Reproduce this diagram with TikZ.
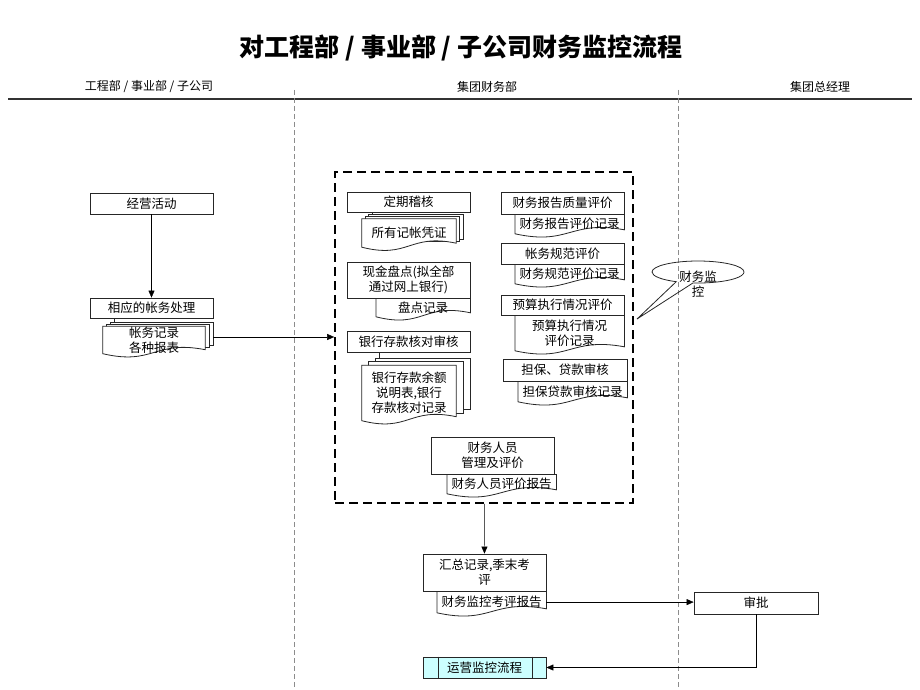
\documentclass[tikz,border=0pt]{standalone}
\usepackage{fontspec}
\setmainfont{Noto Sans CJK SC}
\usepackage{tikz}
\usetikzlibrary{arrows.meta,positioning,shapes.callouts,backgrounds}

\definecolor{opsfill}{RGB}{204,255,255}
\newcommand{\boxfont}{\fontsize{12.5}{15}\selectfont}
\newcommand{\headfont}{\fontsize{12}{14}\selectfont}

% document outline (wavy bottom) behind a node
\newcommand{\docshape}[1]{%
  \begin{scope}[on background layer]
    \draw[outl,fill=white] (#1.north west) -- (#1.north east) -- ([yshift=4pt]#1.south east)
      .. controls ([yshift=14pt]#1.south) and ([yshift=-12pt]#1.south) .. (#1.south west) -- cycle;
  \end{scope}}

% stack of documents: front node, dx, dy, box above
\newcommand{\docstack}[4]{%
  \begin{scope}[on background layer]
    \foreach \k in {2,1}
      \draw[outl,fill=white] ([xshift=\k*#2pt,yshift=\k*#3pt]#1.north west)
        rectangle ([xshift=\k*#2pt,yshift=\k*#3pt+4pt]#1.south east);
    \coordinate (#1tk) at ([xshift=2*#2pt+4pt,yshift=2*#3pt]#1.north west);
    \draw[outl] (#1tk) -- (#1tk |- #4.south);
  \end{scope}
  \docshape{#1}}

\begin{document}
\begin{tikzpicture}[x=1pt,y=-1pt,
    outl/.style={draw=black!85,line width=0.8pt},
    proc/.style={outl,fill=white,minimum width=123pt,minimum height=21pt,inner sep=0pt,align=center,font=\boxfont},
    doc/.style={minimum width=109pt,minimum height=19pt,inner sep=0pt,align=center,font=\boxfont},
    lane/.style={draw=black!45,line width=0.6pt,dash pattern=on 5pt off 3pt},
    >={Triangle[length=7pt,width=6pt]}
  ]
  \useasboundingbox (0,0) rectangle (920,690);

  % Title and lanes
  \node[font=\fontsize{25}{28}\selectfont\bfseries] (title) at (461,48) {对工程部 / 事业部 / 子公司财务监控流程};
  \node[font=\headfont] (hdl) at (149,87) {工程部 / 事业部 / 子公司};
  \node[font=\headfont] (hdm) at (487,87) {集团财务部};
  \node[font=\headfont] (hdr) at (820,87) {集团总经理};
  \draw[line width=1.6pt,black!80] (8,99) -- (912,99);
  \draw[lane] (294,90) -- (294,690);
  \draw[lane] (678,90) -- (678,690);

  % Left lane
  \node[proc] (act) at (151.5,203.5) {经营活动};
  \node[proc,minimum height=20pt] (acct) at (151.5,308) {相应的帐务处理};
  \node[doc,minimum width=102pt,minimum height=27pt] (rec) at (154,340) {帐务记录\\各种报表};
  \docstack{rec}{4}{2}{acct}
  \draw[->] (act) -- (acct);

  % Monitoring block
  \node[draw,line width=1.6pt,dash pattern=on 9pt off 5pt,minimum width=298pt,minimum height=331pt] (mon) at (484,337.5) {};
  \coordinate (recout) at ([xshift=8pt,yshift=3pt]rec.east);
  \draw[->] (recout) -- (recout -| mon.west);

  \node[proc,minimum height=20pt] (aud) at (408.5,202) {定期稽核};
  \node[doc,minimum width=94pt,minimum height=28pt] (vou) at (409,233) {所有记帐凭证};
  \docstack{vou}{3.5}{2}{aud}

  \node[proc,minimum height=36pt] (cash) at (408.5,280) {现金盘点(拟全部\\通过网上银行)};
  \node[doc,minimum width=94pt,minimum height=18pt,anchor=north east] (cashrec) at (cash.south east) {盘点记录};
  \docshape{cashrec}

  \node[proc] (bank) at (408.5,341.5) {银行存款核对审核};
  \node[doc,minimum width=94pt,minimum height=55pt] (bankrec) at (409,393) {银行存款余额\\说明表,银行\\存款核对记录};
  \docstack{bankrec}{7}{3.5}{bank}

  \node[proc,minimum height=22pt] (qual) at (562.5,203) {财务报告质量评价};
  \node[doc,anchor=north east] (qualrec) at (qual.south east) {财务报告评价记录};
  \docshape{qualrec}

  \node[proc] (norm) at (562.5,253.5) {帐务规范评价};
  \node[doc,anchor=north east] (normrec) at (norm.south east) {财务规范评价记录};
  \docshape{normrec}

  \node[proc,minimum height=20pt] (bud) at (562.5,305) {预算执行情况评价};
  \node[doc,minimum height=35pt,anchor=north east] (budrec) at (bud.south east) {预算执行情况\\评价记录};
  \docshape{budrec}

  \node[proc,minimum width=124pt,minimum height=22pt] (guar) at (565,370) {担保、贷款审核};
  \node[doc,minimum height=20pt,anchor=north east] (guarrec) at (guar.south east) {担保贷款审核记录};
  \docshape{guarrec}

  \node[proc,minimum height=37pt] (staff) at (492.5,455.5) {财务人员\\管理及评价};
  \node[doc,anchor=north east] (staffrec) at ([xshift=2pt]staff.south east) {财务人员评价报告};
  \docshape{staffrec}

  % Callout
  \coordinate (tip) at (637,319);
  \node[ellipse callout,outl,minimum width=92pt,minimum height=22pt,inner sep=0pt,
    callout absolute pointer={(tip)},callout pointer arc=22,font=\boxfont] (call) at (698,272)
    {\raisebox{-24pt}[0pt][0pt]{\parbox[b]{40pt}{\centering 财务监\\控}}};

  % Summary and approval
  \node[proc,minimum height=37pt] (sum) at (484.5,572.5) {汇总记录,季末考\\评};
  \node[doc,minimum height=21pt,anchor=north east] (sumrec) at (sum.south east) {财务监控考评报告};
  \docshape{sumrec}
  \node[proc,minimum width=124pt,minimum height=22pt] (appr) at (756,603) {审批};
  \node[proc,fill=opsfill] (ops) at (484.5,667.5) {运营监控流程};
  \draw[outl] ([xshift=16pt]ops.north west) -- ([xshift=16pt]ops.south west);
  \draw[outl] ([xshift=-14pt]ops.north east) -- ([xshift=-14pt]ops.south east);

  \draw[->] (mon) -- (sum);
  \draw[->] (sumrec.east) -- (sumrec.east -| appr.west);
  \draw[->] (appr) |- (ops);
\end{tikzpicture}
\end{document}
